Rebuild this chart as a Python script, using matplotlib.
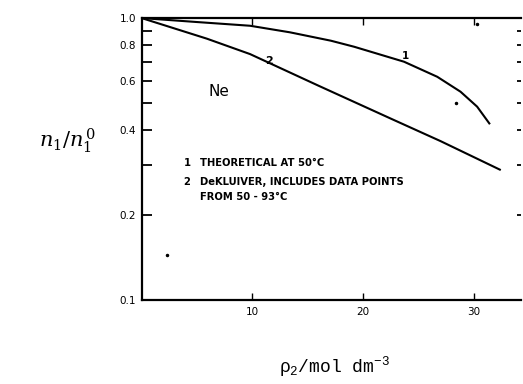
import matplotlib
matplotlib.use('Agg')
import matplotlib.pyplot as plt
from matplotlib.ticker import FixedLocator, NullLocator, NullFormatter

plt.rcParams['mathtext.fontset'] = 'custom'
plt.rcParams['mathtext.rm'] = 'Liberation Mono'
plt.rcParams['mathtext.it'] = 'Liberation Mono'

#---- Curve 1: theoretical at 50 C
x_theory = [0, 5, 9.8, 13.4, 17.1, 19.2, 23.7, 26.7, 28.8, 30.3, 31.4]
y_theory = [1.0, 0.968, 0.939, 0.89, 0.831, 0.791, 0.70, 0.619, 0.548, 0.485, 0.423]

#---- Curve 2: DeKluiver
x_dek = [0, 5.9, 9.8, 16, 22.5, 27, 32.35]
y_dek = [1.0, 0.845, 0.745, 0.575, 0.44, 0.366, 0.29]

#---- stray points
x_dots = [28.4, 2.3, 30.3]
y_dots = [0.50, 0.145, 0.95]

y_major = [1.0, 0.8, 0.6, 0.4, 0.2, 0.1]
y_major_lbl = ['1.0', '0.8', '0.6', '0.4', '0.2', '0.1']
y_minor = [0.9, 0.7, 0.5, 0.3]
x_ticks = [10, 20, 30]

fig = plt.figure(figsize=(5.23, 3.84), dpi=100)
ax = fig.add_axes([0.2706, 0.21875, 0.7264, 0.73425])

ax.plot(x_theory, y_theory, color='black', lw=1.5)
ax.plot(x_dek, y_dek, color='black', lw=1.5)
ax.plot(x_dots, y_dots, 'o', color='black', ms=1.5)

ax.set_yscale('log')
ax.set_xlim(0, 34.3)
ax.set_ylim(0.1, 1.0)

ax.yaxis.set_major_locator(FixedLocator(y_major))
ax.yaxis.set_minor_locator(FixedLocator(y_minor))
ax.yaxis.set_minor_formatter(NullFormatter())
ax.set_yticklabels(y_major_lbl)
ax.xaxis.set_major_locator(FixedLocator(x_ticks))
ax.xaxis.set_minor_locator(NullLocator())

ax.spines['right'].set_visible(False)
for s in ['left', 'top', 'bottom']:
    ax.spines[s].set_linewidth(1.6)

ax.tick_params(axis='y', which='both', direction='in', length=7, width=1.3,
               left=True, right=True, labelright=False, labelsize=7.5, pad=4)
ax.tick_params(axis='x', which='major', direction='in', length=5, width=1,
               top=True, labelsize=7.5, pad=5)
# right side marks are just small dots
for t in ax.yaxis.get_major_ticks() + ax.yaxis.get_minor_ticks():
    t.tick2line.set_markersize(3)

ax.text(23.8, 0.733, '1', fontsize=7.5, fontweight='bold', ha='center', va='center')
ax.text(11.5, 0.705, '2', fontsize=8, fontweight='bold', ha='center', va='center')
ax.text(7.0, 0.547, 'Ne', fontsize=11, ha='center', va='center')

ax.text(3.8, 0.305, '1', fontsize=7.2, fontweight='bold', va='center')
ax.text(5.3, 0.305, 'THEORETICAL AT 50°C', fontsize=7.2, fontweight='bold', va='center')
ax.text(3.8, 0.262, '2', fontsize=7.2, fontweight='bold', va='center')
ax.text(5.3, 0.262, 'DeKLUIVER, INCLUDES DATA POINTS', fontsize=7.2,
        fontweight='bold', va='center')
ax.text(5.3, 0.232, 'FROM 50 - 93°C', fontsize=7.2, fontweight='bold', va='center')

fig.text(0.13, 0.635, r'$n_{1}/n_{1}^{\,0}$', fontsize=15, ha='center', va='center',
         family='DejaVu Serif', math_fontfamily='dejavuserif')
fig.text(0.64, 0.045, r'$\rho_2$/mol dm$^{-3}$', fontsize=13, ha='center', va='center',
         family='Liberation Mono', math_fontfamily='custom')

fig.savefig('out.png', dpi=100)
